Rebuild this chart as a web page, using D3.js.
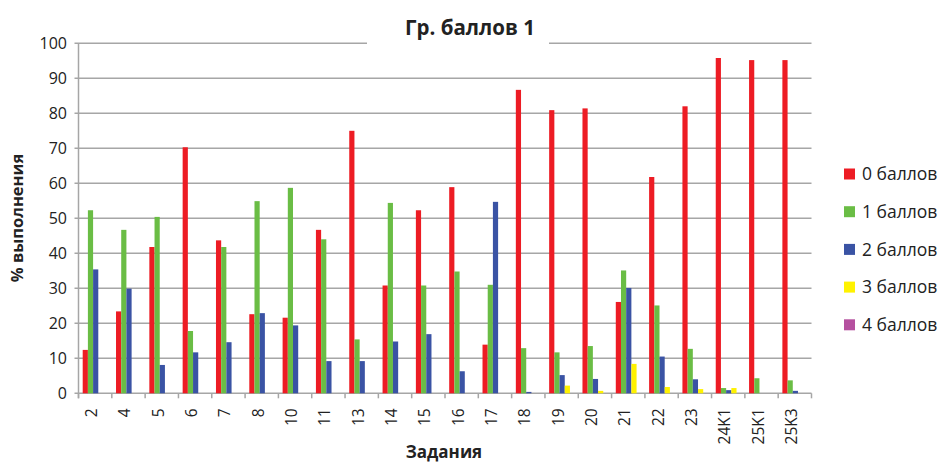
<!DOCTYPE html>
<html><head><meta charset="utf-8">
<script src="https://cdn.jsdelivr.net/npm/d3@7"></script>
<style>body{margin:0;background:#fff}svg{display:block}text{font-family:"Open Sans",sans-serif}</style>
</head><body>
<svg id="c" width="943" height="463"></svg>
<script>
const categories = ["2","4","5","6","7","8","10","11","13","14","15","16","17","18","19","20","21","22","23","24K1","25K1","25K3"];
const seriesNames = ["0 баллов","1 баллов","2 баллов","3 баллов","4 баллов"];
const s0 = [12.4,23.4,41.8,70.3,43.7,22.6,21.6,46.7,75.0,30.8,52.3,58.9,13.9,86.7,80.9,81.4,26.1,61.8,82.0,95.8,95.2,95.2];
const s1 = [52.3,46.7,50.4,17.8,41.8,54.9,58.7,44.0,15.4,54.4,30.8,34.8,31.0,12.9,11.7,13.5,35.1,25.1,12.7,1.5,4.3,3.7];
const s2 = [35.4,29.9,8.1,11.7,14.6,22.9,19.4,9.2,9.2,14.8,16.9,6.3,54.7,0.4,5.2,4.1,30.1,10.5,4.0,0.9,0,0.7];
const s3 = [0,0,0,0,0,0,0,0,0,0,0,0,0,0,2.2,0.7,8.4,1.8,1.2,1.5,0,0];
const s4 = [0,0,0,0,0,0,0,0,0,0,0,0,0,0,0,0,0,0,0,0,0,0];
const yTicks = [0,10,20,30,40,50,60,70,80,90,100];
const colors = ["#ed1c24","#6abd45","#3a53a4","#fff200","#b5509f"];
const values = [s0,s1,s2,s3,s4];

const svg = d3.select("#c");
const L = 78.5, R = 811.5, T = 43.3, B = 393.3;
const x0 = d3.scaleBand().domain(categories).range([L, R]).paddingInner(0).paddingOuter(0);
const bw = x0.bandwidth();
const x1 = d3.scaleBand().domain(d3.range(5)).range([bw*0.126, bw*0.906]).paddingInner(0).paddingOuter(0);
const y = d3.scaleLinear().domain([0,100]).range([B, T]);

// gridlines
svg.append("g").selectAll("line").data(yTicks).join("line")
  .attr("x1", L-4).attr("x2", R).attr("y1", d=>y(d)).attr("y2", d=>y(d))
  .attr("stroke", "#a6a6a6").attr("stroke-width", 1.5);
// y axis line
svg.append("line").attr("x1", L).attr("x2", L).attr("y1", T).attr("y2", B+5)
  .attr("stroke", "#a6a6a6").attr("stroke-width", 1.5);
// x tick marks
const bounds = categories.map(c => x0(c)).concat([R]);
svg.append("g").selectAll("line").data(bounds).join("line")
  .attr("x1", d=>d).attr("x2", d=>d).attr("y1", B).attr("y2", B+5)
  .attr("stroke", "#a6a6a6").attr("stroke-width", 1.5);

// bars
const g = svg.append("g");
categories.forEach((c, i) => {
  values.forEach((s, k) => {
    const v = s[i];
    if (v <= 0) return;
    g.append("rect")
      .attr("x", x0(c) + x1(k)).attr("width", x1.bandwidth())
      .attr("y", y(v)).attr("height", y(0) - y(v))
      .attr("fill", colors[k]);
  });
});

// y tick labels
svg.append("g").selectAll("text").data(yTicks).join("text")
  .attr("x", 67).attr("y", d=>y(d)).attr("dy", "0.36em").attr("text-anchor","end")
  .attr("font-size", 16).attr("fill", "#222").text(d=>d);

// x tick labels
svg.append("g").selectAll("text").data(categories).join("text")
  .attr("transform", c => `translate(${x0(c)+bw/2+2},${B+15}) rotate(-90)`)
  .attr("text-anchor","end").attr("font-size", 15.5).attr("fill", "#222").text(c=>c);

// title
svg.append("rect").attr("x", 367).attr("y", 10).attr("width", 182).attr("height", 34).attr("fill", "#fff");
svg.append("text").attr("x", 470).attr("y", 35).attr("text-anchor","middle")
  .attr("font-size", 20.5).attr("font-weight", "bold").attr("fill", "#222").text("Гр. баллов 1");

// axis titles
svg.append("text").attr("transform", "translate(23,218) rotate(-90)").attr("text-anchor","middle")
  .attr("font-size", 16.5).attr("font-weight","bold").attr("fill","#222").text("% выполнения");
svg.append("text").attr("x", 444).attr("y", 458).attr("text-anchor","middle")
  .attr("font-size", 17).attr("font-weight","bold").attr("fill","#222").text("Задания");

// legend
const leg = svg.append("g");
seriesNames.forEach((n, k) => {
  const yy = 174 + k*37.7;
  leg.append("rect").attr("x", 844).attr("y", yy-5.5).attr("width", 11).attr("height", 11).attr("fill", colors[k]);
  leg.append("text").attr("x", 862).attr("y", yy).attr("dy","0.35em").attr("font-size", 17.5).attr("fill","#222").text(n);
});
</script>
</body></html>
